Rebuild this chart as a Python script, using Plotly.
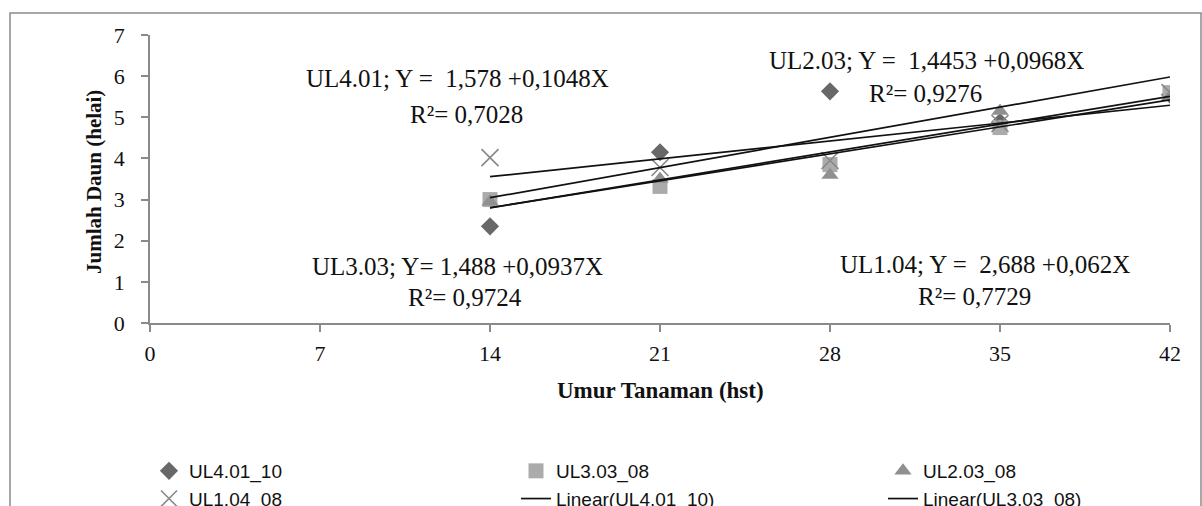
import plotly.graph_objects as go

# ---- data ----
days = [14, 21, 28, 35, 42]
ul401_10 = [2.35, 4.15, 5.63, 4.88, 5.55]
ul303_08 = [3.0, 3.32, 3.85, 4.75, 5.6]
ul203_08 = [2.95, 3.5, 3.6, 5.15, 5.5]
ul104_08 = [4.02, 3.78, 3.95, 4.85, 5.6]

series_names = ["UL4.01_10", "UL3.03_08", "UL2.03_08", "UL1.04_08"]
intercepts = [1.578, 1.488, 1.4453, 2.688]
slopes = [0.1048, 0.0937, 0.0968, 0.062]
eq_labels = ["UL4.01; Y =  1,578 +0,1048X", "UL3.03; Y= 1,488 +0,0937X",
             "UL2.03; Y =  1,4453 +0,0968X", "UL1.04; Y =  2,688 +0,062X"]
r2_labels = ["R²= 0,7028", "R²= 0,9724", "R²= 0,9276", "R²= 0,7729"]

x_ticks = [0, 7, 14, 21, 28, 35, 42]
y_ticks = [0, 1, 2, 3, 4, 5, 6, 7]

# ---- figure geometry ----
W, H = 1202, 506
L, R_, T, B = 150, 1170, 35, 323
X_MAX, Y_MAX = 42, 7

def px(xp):
    return (xp - L) / (R_ - L) * X_MAX

def py(yp):
    return (B - yp) / (B - T) * Y_MAX

def pxp(xp):
    return (xp - L) / (R_ - L)

def pyp(yp):
    return (B - yp) / (B - T)

SERIF = "Liberation Serif, Times New Roman, serif"

fig = go.Figure()

styles = [
    dict(symbol="diamond", size=14, color="#686868"),
    dict(symbol="square", size=15, color="#ababab"),
    dict(symbol="triangle-up", size=15, color="#909090"),
    dict(symbol="x-thin-open", size=17, color="#888888", line=dict(width=1.6, color="#888888")),
]
datas = [ul401_10, ul303_08, ul203_08, ul104_08]

for name, ys, st in zip(series_names, datas, styles):
    mk = dict(symbol=st["symbol"], size=st["size"], color=st["color"])
    if "line" in st:
        mk["line"] = st["line"]
    else:
        mk["line"] = dict(width=0)
    fig.add_trace(go.Scatter(x=days, y=ys, mode="markers", name=name, marker=mk))

for i, (name, a, b) in enumerate(zip(series_names, intercepts, slopes)):
    xs = [days[0], days[-1]]
    ys = [a + b * xv for xv in xs]
    fig.add_trace(go.Scatter(x=xs, y=ys, mode="lines", name=f"Linear({name})",
                             line=dict(color="#111111", width=1.7),
                             showlegend=(i < 2)))

# equation annotations (pixel positions of reference)
eq_pos = [(457, 78, 466, 114), (457, 266, 465, 297), (926, 60, 925, 93), (985, 264, 974, 296)]
for (x1, y1, x2, y2), eq, r2 in zip(eq_pos, eq_labels, r2_labels):
    fig.add_annotation(x=px(x1), y=py(y1), xref="x", yref="y", text=eq, showarrow=False,
                       font=dict(family=SERIF, size=25, color="#111"))
    fig.add_annotation(x=px(x2), y=py(y2), xref="x", yref="y", text=r2, showarrow=False,
                       font=dict(family=SERIF, size=25, color="#111"))

# axis titles
fig.add_annotation(x=pxp(80), y=pyp(182), xref="paper", yref="paper",
                   text="<b>Jumlah Daun (helai)</b>", textangle=-90, showarrow=False,
                   font=dict(family=SERIF, size=21, color="#111"))
fig.add_annotation(x=pxp(660), y=pyp(405), xref="paper", yref="paper",
                   text="<b>Umur Tanaman (hst)</b>", showarrow=False,
                   font=dict(family=SERIF, size=23, color="#111"))

# outer chart frame
fig.add_shape(type="rect", xref="paper", yref="paper",
              x0=pxp(10), x1=pxp(1201), y0=pyp(540), y1=pyp(13),
              line=dict(color="#8a8a8a", width=1.5), fillcolor="rgba(0,0,0,0)", layer="below")

fig.update_layout(
    width=W, height=H,
    margin=dict(l=L, r=W - R_, t=T, b=H - B, autoexpand=False),
    paper_bgcolor="white", plot_bgcolor="white",
    showlegend=True,
    legend=dict(orientation="h", x=pxp(149), xanchor="left",
                y=pyp(452), yanchor="top",
                entrywidth=322, entrywidthmode="pixels",
                font=dict(family="Liberation Sans, Arial, sans-serif", size=19, color="#111"),
                bgcolor="rgba(0,0,0,0)", tracegroupgap=0, itemwidth=30),
    xaxis=dict(range=[0, X_MAX], tickvals=x_ticks, ticktext=[str(v) for v in x_ticks],
               showgrid=False, zeroline=False, showline=True, linecolor="#8a8a8a", linewidth=1.5,
               ticks="outside", ticklen=7, tickcolor="#8a8a8a", tickwidth=1.5,
               ticklabelstandoff=3,
               tickfont=dict(family=SERIF, size=22, color="#111")),
    yaxis=dict(range=[0, Y_MAX], tickvals=y_ticks,
               showgrid=False, zeroline=False, showline=True, linecolor="#8a8a8a", linewidth=1.5,
               ticks="outside", ticklen=7, tickcolor="#8a8a8a", tickwidth=1.5,
               ticklabelstandoff=12,
               tickfont=dict(family=SERIF, size=22, color="#111")),
)

fig.write_html("out.html", config={"displayModeBar": False},
               post_script="document.body.style.margin='0';document.body.style.overflow='hidden';")
